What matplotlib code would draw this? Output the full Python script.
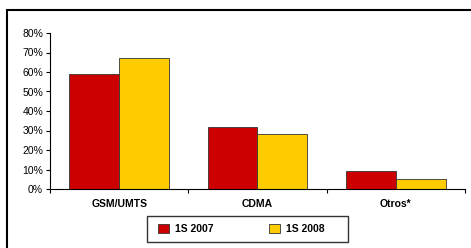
import numpy as np
import matplotlib.pyplot as plt
from matplotlib.patches import Rectangle

## Datos
categorias = ['GSM/UMTS', 'CDMA', 'Otros*']
s2007 = [59, 32, 9]
s2008 = [67, 28, 5]
ticks_y = [0, 10, 20, 30, 40, 50, 60, 70, 80]

plt.rcParams['font.family'] = ['Liberation Sans', 'DejaVu Sans']

fig = plt.figure(figsize=(4.71, 2.48), dpi=100)
ax = fig.add_axes([50/471, 1 - 189/248, 415/471, 156/248])

x = np.arange(len(categorias))
w = 0.36
ax.bar(x - w/2, s2007, w, color='#CC0000', edgecolor='#333333', lw=0.6, label='1S 2007')
ax.bar(x + w/2, s2008, w, color='#FFCC00', edgecolor='#333333', lw=0.6, label='1S 2008')

ax.set_xlim(-0.5, len(categorias) - 0.5)
ax.set_ylim(0, 80)
ax.set_yticks(ticks_y)
ax.set_yticklabels([f'{v}%' for v in ticks_y], fontsize=7.5)
ax.set_xticks(x)
ax.set_xticklabels(categorias, fontsize=7.5, fontweight='bold')
ax.tick_params(axis='x', length=0, pad=7)
ax.set_xticks(np.arange(len(categorias) + 1) - 0.5, minor=True)
ax.tick_params(axis='x', which='minor', length=3, width=0.8)
ax.tick_params(axis='y', length=3, width=0.8, pad=2)
for s in ['top', 'right']:
    ax.spines[s].set_visible(False)
for s in ['left', 'bottom']:
    ax.spines[s].set_linewidth(0.8)

# leyenda sin marco, el marco se dibuja aparte
leg = ax.legend(loc='center left', bbox_to_anchor=(153/471, 1 - 229/248),
                bbox_transform=fig.transFigure, ncol=2,
                prop={'weight': 'bold', 'size': 7.5}, frameon=False,
                handlelength=1.0, handleheight=1.0, columnspacing=5.35,
                borderpad=0, handletextpad=0.6)
fig.patches.append(Rectangle((147/471, 1 - 242/248), 201/471, 26/248,
                             transform=fig.transFigure, fill=False,
                             edgecolor='#333333', lw=1.0))

# marco exterior (recortado)
fig.patches.append(Rectangle((7/471, -0.1), 1.2, 1 - 10/248 + 0.1, transform=fig.transFigure,
                             fill=False, edgecolor='black', lw=1.5))

fig.savefig('out.png', dpi=100)
